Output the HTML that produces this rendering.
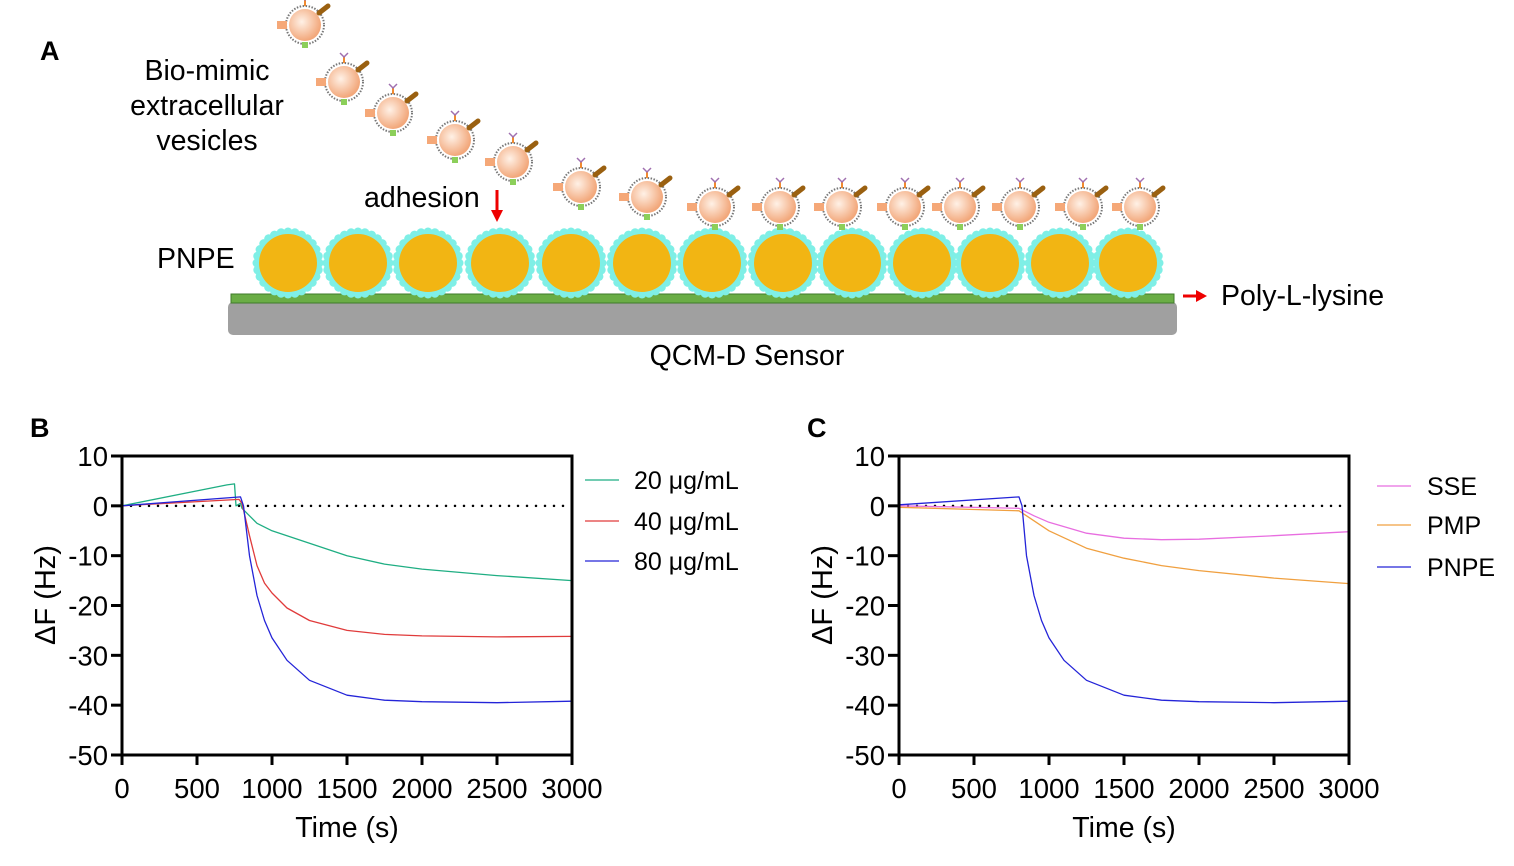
<!DOCTYPE html>
<html><head><meta charset="utf-8"><style>
body{margin:0;background:#fff;}
svg{display:block;font-family:"Liberation Sans",sans-serif;}
</style></head><body>
<svg id="fig" width="1514" height="866" viewBox="0 0 1514 866">
<g id="panelA">
<text x="40" y="60" font-size="27" font-weight="bold">A</text>
<text x="207" y="80" font-size="28.5" text-anchor="middle">Bio-mimic</text>
<text x="207" y="115" font-size="28.5" text-anchor="middle">extracellular</text>
<text x="207" y="150" font-size="28.5" text-anchor="middle">vesicles</text>
<text x="364" y="207" font-size="28.5">adhesion</text>
<line x1="497" y1="190" x2="497" y2="212" stroke="#e00" stroke-width="3"/>
<polygon points="491,210 503,210 497,222" fill="#e00"/>
<text x="157" y="268" font-size="28.5">PNPE</text>
<rect x="228" y="302" width="949" height="33" rx="5" fill="#a0a0a0"/>
<rect x="231" y="294" width="943" height="9" fill="#6aad45" stroke="#3f7a2a" stroke-width="1"/>
<line x1="1183" y1="296" x2="1198" y2="296" stroke="#e00" stroke-width="3"/>
<polygon points="1196,290 1207,296 1196,302" fill="#e00"/>
<text x="1221" y="305" font-size="28.5">Poly-L-lysine</text>
<text x="747" y="365" font-size="28.5" text-anchor="middle">QCM-D Sensor</text>
<g id="particles"></g>
<g id="vesicles"></g>
</g>
<defs>
<radialGradient id="vg" cx="0.4" cy="0.4" r="0.6"><stop offset="0" stop-color="#fff1e6"/><stop offset="1" stop-color="#f2a77a"/></radialGradient>
</defs>
<g id="chartB"></g>
<g id="chartC"></g>
</svg>
<script>
const NS="http://www.w3.org/2000/svg";
function mk(tag,attrs,parent){const e=document.createElementNS(NS,tag);for(const k in attrs)e.setAttribute(k,attrs[k]);parent.appendChild(e);return e;}

const particleX=[288,358,428,500,571,642,712,783,852,922,990,1060,1128];
const pg=document.getElementById('particles');
particleX.forEach(cx=>{
  const g=mk('g',{},pg);
  
  
  for(let i=0;i<28;i++){const a=i/28*Math.PI*2;mk('circle',{cx:cx+31*Math.cos(a),cy:263+31*Math.sin(a),r:4.5,fill:'#7fefe6'},g);}
  mk('circle',{cx:cx,cy:263,r:29,fill:'#f2b513'},g);
});
const vesX=[305,344,393,455,513,581,647,715,780,842,905,960,1020,1083,1140];
const vesY=[25,82,113,140,162,187,197,207,207,207,207,207,207,207,207];
const vg=document.getElementById('vesicles');
vesX.forEach((cx,i)=>{
  const cy=vesY[i];
  const g=mk('g',{},vg);
  
  
  mk('circle',{cx:cx,cy:cy,r:19,fill:'none',stroke:'#777','stroke-width':2,'stroke-dasharray':'1.5 1.5'},g);
  mk('circle',{cx:cx,cy:cy,r:16,fill:'url(#vg)'},g);
  mk('line',{x1:cx,y1:cy-19,x2:cx,y2:cy-25,stroke:'#f08a30','stroke-width':2},g);
  mk('path',{d:`M${cx-4} ${cy-29} L${cx} ${cy-25} L${cx+4} ${cy-29}`,fill:'none',stroke:'#a070b0','stroke-width':1.5},g);
  mk('line',{x1:cx+14,y1:cy-12,x2:cx+23,y2:cy-19,stroke:'#9a6010','stroke-width':5,'stroke-linecap':'round'},g);
  mk('rect',{x:cx-28,y:cy-4,width:10,height:8,fill:'#f5a878'},g);
  mk('rect',{x:cx-3,y:cy+17,width:6,height:6,fill:'#8ccf5a'},g);
});

// ---- chart data ----
const xTicks=[0,500,1000,1500,2000,2500,3000];
const yTicks=[10,0,-10,-20,-30,-40,-50];
const tB20=[0,700,750,760,790,800,850,900,1000,1250,1500,1750,2000,2500,3000];
const vB20=[0,4.2,4.4,0,0.5,-0.5,-2,-3.5,-5,-7.5,-10,-11.7,-12.7,-14,-15];
const tB40=[0,780,800,850,900,950,1000,1100,1250,1500,1750,2000,2500,3000];
const vB40=[0,1.3,0.5,-6,-12,-15.5,-17.5,-20.5,-23,-25,-25.8,-26.1,-26.3,-26.2];
const tB80=[0,790,810,850,900,950,1000,1100,1250,1500,1750,2000,2500,3000];
const vB80=[0,1.8,0,-10,-18,-23,-26.5,-31,-35,-38,-39,-39.3,-39.5,-39.2];
const tSSE=[0,800,900,1000,1250,1500,1750,2000,2500,3000];
const vSSE=[0,-0.5,-2,-3.3,-5.5,-6.5,-6.8,-6.7,-6,-5.2];
const tPMP=[0,800,900,1000,1250,1500,1750,2000,2500,3000];
const vPMP=[-0.3,-1,-3,-5,-8.5,-10.5,-12,-13,-14.5,-15.6];
const tPNPE=[0,800,820,850,900,950,1000,1100,1250,1500,1750,2000,2500,3000];
const vPNPE=[0.2,1.8,0,-10,-18,-23,-26.5,-31,-35,-38,-39,-39.3,-39.5,-39.2];
const labelsB=['20 μg/mL','40 μg/mL','80 μg/mL'];
const labelsC=['SSE','PMP','PNPE'];

function chart(gid,x0,letter,series,labels,colors,legX,legY,textX){
  const g=document.getElementById(gid);
  const X=t=>x0+t/3000*450, Y=v=>456+(10-v)/60*299;
  const lab=mk('text',{x:x0-92,y:437,'font-size':27,'font-weight':'bold'},g);lab.textContent=letter;
  
  
  const zl=mk('line',{x1:X(0),y1:Y(0),x2:X(3000),y2:Y(0),stroke:'#000','stroke-width':2.5,'stroke-dasharray':'0 9','stroke-linecap':'round'},g);
  
  
  series.forEach((s,i)=>{
    const d=s[0].map((t,j)=>(j?'L':'M')+X(t).toFixed(1)+' '+Y(s[1][j]).toFixed(1)).join(' ');
    const p=mk('path',{d:d,fill:'none',stroke:colors[i],'stroke-width':1.3,'stroke-linejoin':'round'},g);
    
    
    const ll=mk('line',{x1:legX,y1:legY[i],x2:legX+34,y2:legY[i],stroke:colors[i],'stroke-width':1.3},g);
    
    
    const lt=mk('text',{x:textX,y:legY[i]+9,'font-size':25},g);lt.textContent=labels[i];
    
    
  });
  const fr=mk('rect',{x:X(0),y:Y(10),width:450,height:299,fill:'none',stroke:'#000','stroke-width':3},g);
  
  
  xTicks.forEach(t=>{
    const tk=mk('line',{x1:X(t),y1:Y(-50),x2:X(t),y2:Y(-50)+10,stroke:'#000','stroke-width':3},g);
    
    
    const tx=mk('text',{x:X(t),y:798,'font-size':27.5,'text-anchor':'middle'},g);tx.textContent=t;
    
    
  });
  yTicks.forEach(v=>{
    const tk=mk('line',{x1:X(0)-11,y1:Y(v),x2:X(0),y2:Y(v),stroke:'#000','stroke-width':3},g);
    
    
    const tx=mk('text',{x:X(0)-14,y:Y(v)+10,'font-size':27.5,'text-anchor':'end'},g);tx.textContent=v;
    
    
  });
  const xt=mk('text',{x:X(1500),y:837,'font-size':28.5,'text-anchor':'middle'},g);xt.textContent='Time (s)';
  
  
  const yt=mk('text',{x:0,y:0,'font-size':29,'text-anchor':'middle',transform:`translate(${x0-67},595) rotate(-90)`},g);yt.textContent='ΔF (Hz)';
  
  
}
chart('chartB',122,'B',[[tB20,vB20],[tB40,vB40],[tB80,vB80]],labelsB,['#1fae83','#e03b3b','#2424d8'],585,[480,521,561],634);
chart('chartC',899,'C',[[tSSE,vSSE],[tPMP,vPMP],[tPNPE,vPNPE]],labelsC,['#e86ee0','#f0a040','#2424d8'],1377,[486,525,567],1427);
</script>
</body></html>
